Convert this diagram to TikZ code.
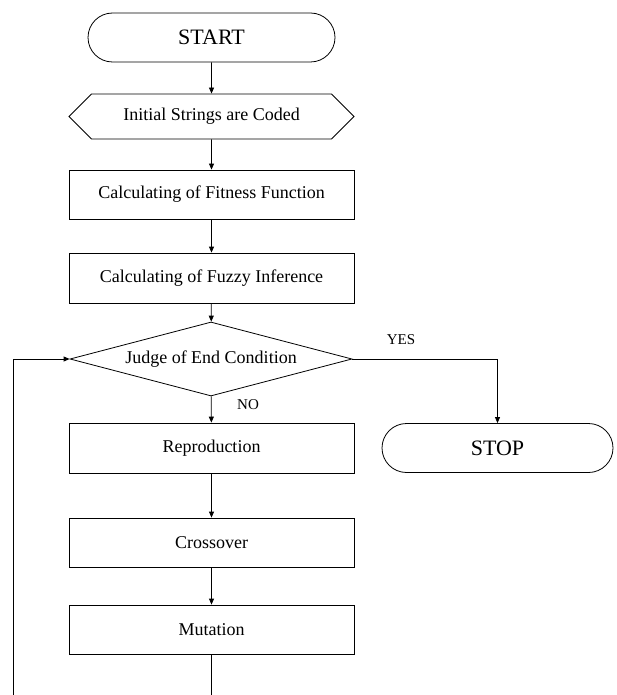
\documentclass[tikz,border=0pt]{standalone}
\usepackage{fontspec}
\setmainfont{Liberation Serif}
\usepackage{tikz}
\usetikzlibrary{arrows.meta}
\usetikzlibrary{shapes.geometric,shapes.misc,shapes.symbols}

\begin{document}
\begin{tikzpicture}[x=1pt,y=-1pt,
	box/.style={rectangle,minimum width=285pt,minimum height=49pt},
	term/.style={rounded rectangle,minimum height=49pt,font=\fontsize{22}{24}\selectfont},
	lbl/.style={font=\fontsize{15}{17}\selectfont}]
			\useasboundingbox (0,0) rectangle (616,695);
			\begin{scope}[every node/.style={draw,line width=0.8pt,inner sep=0pt,font=\fontsize{18}{20}\selectfont}]
				\node[term,minimum width=247pt] (start) at (211.5,37.5) {START};
				\node[signal,signal to=west and east,minimum width=285pt,minimum height=45pt] (init) at (211.5,116.5) {Initial Strings are Coded};
				\node[box] (fit) at (211.5,194.5) {Calculating of Fitness Function};
				\node[box,minimum height=50pt] (fuzzy) at (211.5,278) {Calculating of Fuzzy Inference};
				\node[diamond,aspect=3.8,minimum width=282pt,minimum height=74pt] (judge) at (211,359) {Judge of End Condition};
				\node[box,minimum height=50pt] (repro) at (211.5,448) {Reproduction};
				\node[box] (cross) at (211.5,542.5) {Crossover};
				\node[box] (mut) at (211.5,629.5) {Mutation};
				\node[term,minimum width=231pt] (stop) at (497.5,448) {STOP};
			\end{scope}

			\node[lbl] (yes) at (401,340) {YES};
			\node[lbl] (no) at (248,405) {NO};
			\coordinate (loopA) at (211.5,695);
			\coordinate (loopB) at (13,695);

			\begin{scope}[>={Triangle[length=6pt,width=5pt]},line width=0.8pt]
				\path (start) edge[->] (init);
				\path (init) edge[->] (fit);
				\path (fit) edge[->] (fuzzy);
				\path (fuzzy) edge[->] (judge);
				\path (judge) edge[->] (repro);
				\path (repro) edge[->] (cross);
				\path (cross) edge[->] (mut);
				\draw[->] (judge.east) -| (stop.north);
				\draw (mut) -- (loopA);
				\draw[->] (loopB) |- (judge.west);
			\end{scope}
		\end{tikzpicture}
\end{document}
